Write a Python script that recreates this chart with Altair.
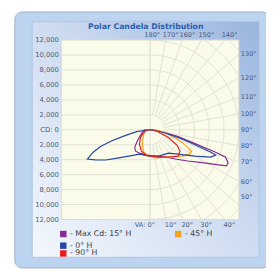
import altair as alt
import numpy as np
import pandas as pd

# ---------------- data ----------------
series_names = ["- Max Cd: 15° H", "- 45° H", "- 0° H", "- 90° H"]
series_colors = ["#852C8F", "#F4A21E", "#2447A3", "#EC1B1B"]

# vertical angle in degrees from nadir (negative = left half), candela
max15_angle = [-90, -90, -66.0, -49.8, -41.6, -34.3, -24.6, -8.7, 12.5, 29.7, 40.9, 50.6, 58.7,
               63.1, 64.9, 67.2, 70.3, 71.3, 73.1, 76.4, 81.3, 81.3]
max15_cd = [0, 780, 1280, 2220, 3140, 3470, 3440, 3430, 3610, 4200, 5180, 6580, 8540,
            10380, 11380, 11460, 10810, 9360, 6270, 3890, 1720, 0]

h45_angle = [-90, -90, -49.4, -28.1, -17.6, -6.3, 11.7, 29.7, 50.7, 58.6, 62.9, 65.9, 71.0, 79.4, 90, 90]
h45_cd = [0, 650, 1200, 2220, 3010, 3540, 3860, 4200, 5560, 6260, 6300, 5430, 4000, 2120, 780, 0]

h0_angle = [-82, -82, -77.0, -74.2, -71.6, -68.7, -65.2, -61.5, -56.0, -49.5, -39.2, -23.7, 0,
            18.4, 38.4, 49.2, 59.6, 66.0, 69.1, 69.9, 71.9, 74.6, 79.7, 79.7]
h0_cd = [0, 1840, 3480, 5280, 7010, 8260, 9340, 8460, 7230, 5830, 4540, 3560, 3520,
         3710, 3990, 4990, 6960, 8990, 9490, 8750, 6310, 3920, 1460, 0]

h90_angle = [-90, -90, -66.8, -51.3, -36.3, -22.2, -8.7, 15.9, 36.9, 47.0, 54.6, 60.3, 67.2, 76.0, 90, 90]
h90_cd = [0, 390, 990, 1670, 2430, 3100, 3430, 3800, 4560, 5170, 4960, 4200, 2690, 1080, 390, 0]

y_ticks = list(range(-12000, 12001, 2000))
top_labels = ["180°", "170°", "160°", "150°", "140°"]
top_angles = [180, 170, 160, 150, 140]
right_labels = ["130°", "120°", "110°", "100°", "90°", "80°", "70°", "60°", "50°"]
right_angles = [130, 120, 110, 100, 90, 80, 70, 60, 50]
bottom_labels = ["10°", "20°", "30°", "40°"]
bottom_angles = [10, 20, 30, 40]
title_text = "Polar Candela Distribution"

# ---------------- build tables ----------------
rows = []
for name, angs, cds in zip(series_names,
                           [max15_angle, h45_angle, h0_angle, h90_angle],
                           [max15_cd, h45_cd, h0_cd, h90_cd]):
    for i, (a, c) in enumerate(zip(angs, cds)):
        rows.append({"series": name, "i": i, "ang": a, "cd": c})
curves = pd.DataFrame(rows)

W, H = 183, 185
R = 12000
PX = 2 * R / W  # candela per pixel (horizontal), used only for label nudges
xs = alt.Scale(domain=[-R, R], nice=False, zero=False)
ys = alt.Scale(domain=[-R, R], nice=False, zero=False)
color_scale = alt.Scale(domain=series_names, range=series_colors)

GRID = "#E0E0D6"
LABEL = "#4B5B7B"
FONT = "DejaVu Sans"

one = pd.DataFrame({"a": [0]})

# background boxes
outer = alt.Chart(one).mark_rect(fill="#BCD4EF", stroke="#9FB0C4", strokeWidth=1, cornerRadius=8).encode(
    x=alt.value(-48), x2=alt.value(215), y=alt.value(-29), y2=alt.value(235))
panel = alt.Chart(one).mark_rect(
    fill=alt.LinearGradient(gradient="linear", x1=0, y1=1, x2=1, y2=0,
                            stops=[alt.GradientStop(offset=0, color="#F4F8FD"),
                                   alt.GradientStop(offset=0.55, color="#CCDAF0"),
                                   alt.GradientStop(offset=1, color="#98B4DE")]),
    stroke="#AFC5E5", strokeWidth=1).encode(
    x=alt.value(-30), x2=alt.value(204), y=alt.value(-19), y2=alt.value(224))
plotbg = alt.Chart(one).mark_rect(fill="#FBFBEA", stroke="#DCDCD0", strokeWidth=1).encode(
    x=alt.value(0), x2=alt.value(W), y=alt.value(0), y2=alt.value(H))

yaxis = alt.Axis(values=y_ticks, labelExpr="datum.value == 0 ? 'CD: 0' : format(abs(datum.value), ',')",
                 title=None, ticks=False, domain=False, grid=False, labelFont=FONT, labelFontSize=7,
                 labelColor=LABEL, labelPadding=3, zindex=1)

# left horizontal grid lines
hgrid_df = pd.DataFrame({"y": y_ticks[1:-1], "x0": -R, "x1": 0})
hgrid = alt.Chart(hgrid_df).mark_rule(color=GRID, strokeWidth=1).encode(
    x=alt.X("x0:Q", scale=xs, axis=None), x2="x1:Q",
    y=alt.Y("y:Q", scale=ys, axis=yaxis))
vline = alt.Chart(pd.DataFrame({"x": [0], "y0": [-R], "y1": [R]})).mark_rule(color=GRID, strokeWidth=1).encode(
    x=alt.X("x:Q", scale=xs, axis=None), y=alt.Y("y0:Q", scale=ys, axis=yaxis), y2="y1:Q")

# polar arcs (right half)
arc_rows = []
for r in range(2000, 16001, 2000):
    for t in range(0, 181, 2):
        arc_rows.append({"r": r, "t": t})
arcs = alt.Chart(pd.DataFrame(arc_rows)).transform_calculate(
    x="datum.r*sin(datum.t*PI/180)", y="-datum.r*cos(datum.t*PI/180)").mark_line(
    color=GRID, strokeWidth=1, clip=True).encode(
    x=alt.X("x:Q", scale=xs, axis=None), y=alt.Y("y:Q", scale=ys, axis=yaxis),
    detail="r:N", order="t:Q")
rad_df = pd.DataFrame({"t": list(range(0, 181, 10))})
radials = alt.Chart(rad_df).transform_calculate(
    x="2000*sin(datum.t*PI/180)", y="-2000*cos(datum.t*PI/180)",
    x2="20000*sin(datum.t*PI/180)", y2="-20000*cos(datum.t*PI/180)").mark_rule(
    color=GRID, strokeWidth=1, clip=True).encode(
    x=alt.X("x:Q", scale=xs, axis=None), y=alt.Y("y:Q", scale=ys, axis=yaxis), x2="x2:Q", y2="y2:Q")

lines = alt.Chart(curves).transform_calculate(
    x="datum.cd*sin(datum.ang*PI/180)", y="-datum.cd*cos(datum.ang*PI/180)").mark_line(
    strokeWidth=1.2, clip=True).encode(
    x=alt.X("x:Q", scale=xs, axis=None), y=alt.Y("y:Q", scale=ys, axis=yaxis),
    color=alt.Color("series:N", scale=color_scale, legend=None),
    detail="series:N", order="i:Q")

# angle labels
top_df = pd.DataFrame({"lab": top_labels, "a": top_angles})
top_txt = alt.Chart(top_df).transform_calculate(
    x=f"12000*tan((180-datum.a)*PI/180) - (datum.a == 180 ? 6 : 3)*{PX}", y="12000").mark_text(
    font=FONT, fontSize=6.8, color=LABEL, align="left", baseline="bottom", dy=-2).encode(
    x=alt.X("x:Q", scale=xs, axis=None), y=alt.Y("y:Q", scale=ys, axis=yaxis), text="lab:N")
right_df = pd.DataFrame({"lab": right_labels, "a": right_angles})
right_txt = alt.Chart(right_df).transform_calculate(
    x="12000", y="max(-9000, -12000*cos(datum.a*PI/180)/sin(datum.a*PI/180))").mark_text(
    font=FONT, fontSize=6.8, color=LABEL, align="left", baseline="middle", dx=2).encode(
    x=alt.X("x:Q", scale=xs, axis=None), y=alt.Y("y:Q", scale=ys, axis=yaxis), text="lab:N")
bot_df = pd.DataFrame({"lab": bottom_labels, "a": bottom_angles})
bot_txt = alt.Chart(bot_df).transform_calculate(
    x="12000*tan(datum.a*PI/180)", y="-12000").mark_text(
    font=FONT, fontSize=6.8, color=LABEL, align="left", baseline="middle", dx=-1, dy=6).encode(
    x=alt.X("x:Q", scale=xs, axis=None), y=alt.Y("y:Q", scale=ys, axis=yaxis), text="lab:N")
va_txt = alt.Chart(pd.DataFrame({"lab": ["VA: 0°"], "x": [0], "y": [-R]})).mark_text(
    font=FONT, fontSize=6.8, color=LABEL, align="right", baseline="middle", dx=5, dy=6).encode(
    x=alt.X("x:Q", scale=xs, axis=None), y=alt.Y("y:Q", scale=ys, axis=yaxis), text="lab:N")

title = alt.Chart(pd.DataFrame({"t": [title_text]})).mark_text(
    font=FONT, fontSize=8, fontWeight="bold", color="#2E5EAE", align="center", baseline="middle").encode(
    x=alt.value(87), y=alt.value(-13), text="t:N")

# legend (manual, column-major layout like the original)
leg_col = [0, 1, 0, 0]
leg_row = [0, 0, 1, 2]
col_x = [2, 120.5]
row_y = [200, 212, 220]
leg_df = pd.DataFrame({"series": series_names,
                       "lx": [col_x[c] for c in leg_col],
                       "ly": [row_y[r] for r in leg_row]})
leg_sq = alt.Chart(leg_df).mark_square(size=44, opacity=1, filled=True).encode(
    x=alt.X("lx:Q", scale=None, axis=None), y=alt.Y("ly:Q", scale=None, axis=None),
    color=alt.Color("series:N", scale=color_scale, legend=None))
leg_tx = alt.Chart(leg_df).mark_text(font=FONT, fontSize=8, color="#404040", align="left",
                                     baseline="middle", dx=7).encode(
    x=alt.X("lx:Q", scale=None, axis=None), y=alt.Y("ly:Q", scale=None, axis=None), text="series:N")

chart = alt.layer(outer, panel, plotbg, hgrid, vline, arcs, radials, lines,
                  top_txt, right_txt, bot_txt, va_txt, title, leg_sq, leg_tx).properties(
    width=W, height=H,
    autosize=alt.AutoSizeParams(type="none"),
    padding={"left": 55, "top": 29, "right": 28, "bottom": 47},
).configure_view(stroke=None).configure(background="white")

chart.save("out.html", embed_options={"renderer": "svg", "actions": False})
